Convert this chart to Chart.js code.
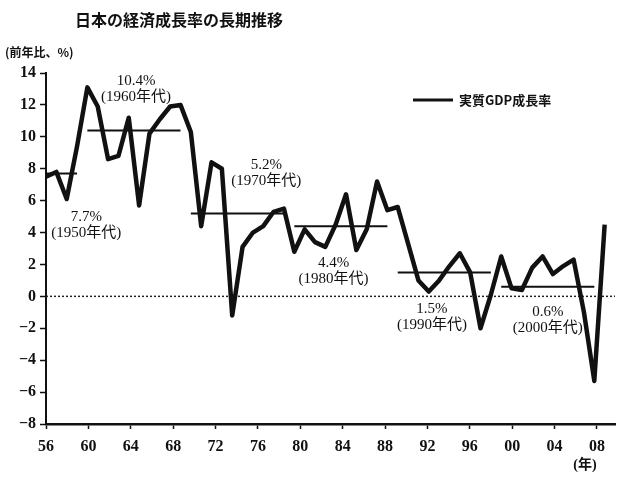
<!DOCTYPE html>
<html lang="ja">
<head>
<meta charset="UTF-8">
<title>日本の経済成長率の長期推移</title>
<script src="https://cdn.jsdelivr.net/npm/chart.js"></script>
<style>
  html, body { margin: 0; padding: 0; background: #fff; }
  #wrap { width: 624px; height: 477px; position: relative; }
</style>
</head>
<body>
<div id="wrap"><canvas id="grafico"></canvas></div>
<script>
// 暦年ごとの実質GDP成長率 (%)
var anos = [1956, 1957, 1958, 1959, 1960, 1961, 1962, 1963, 1964, 1965,
            1966, 1967, 1968, 1969, 1970, 1971, 1972, 1973, 1974, 1975,
            1976, 1977, 1978, 1979, 1980, 1981, 1982, 1983, 1984, 1985,
            1986, 1987, 1988, 1989, 1990, 1991, 1992, 1993, 1994, 1995,
            1996, 1997, 1998, 1999, 2000, 2001, 2002, 2003, 2004, 2005,
            2006, 2007, 2008, 2009, 2010];
var crescimento = [7.5, 7.8, 6.1, 9.4, 13.1, 11.9, 8.6, 8.8, 11.2, 5.7,
                   10.2, 11.1, 11.9, 12.0, 10.3, 4.4, 8.4, 8.0, -1.2, 3.1,
                   4.0, 4.4, 5.3, 5.5, 2.8, 4.2, 3.4, 3.1, 4.5, 6.4,
                   2.9, 4.2, 7.2, 5.4, 5.6, 3.3, 1.0, 0.3, 1.0, 1.9,
                   2.7, 1.5, -2.0, 0.1, 2.5, 0.5, 0.4, 1.8, 2.5, 1.4,
                   1.9, 2.3, -1.0, -5.3, 4.5];

// 年代平均
var decadaNome  = ['1950年代', '1960年代', '1970年代', '1980年代', '1990年代', '2000年代'];
var decadaMedia = [7.7, 10.4, 5.2, 4.4, 1.5, 0.6];
var decadaIni   = [1956, 1960, 1970, 1980, 1990, 2000];
var decadaFim   = [1959, 1969, 1979, 1989, 1999, 2009];

// 目盛り
var xTickAnos   = [1956, 1960, 1964, 1968, 1972, 1976, 1980, 1984, 1988, 1992, 1996, 2000, 2004, 2008];
var xTickLabels = ['56', '60', '64', '68', '72', '76', '80', '84', '88', '92', '96', '00', '04', '08'];
var yTicks      = [-8, -6, -4, -2, 0, 2, 4, 6, 8, 10, 12, 14];

var titulo  = '日本の経済成長率の長期推移';
var unidade = '(前年比、%)';
var legenda = '実質GDP成長率';

// 注記の位置 (データ座標、年代平均と同じ順)
var notaAno   = [1959.9, 1964.7, 1977.3, 1983.8, 1993.3, 2004.5];
var notaValor = [5.0, 13.5, 8.2, 2.1, -0.8, -1.0];

var serif = '"Liberation Serif", "Noto Sans CJK JP", serif';
var gothic = '"Noto Sans CJK JP", sans-serif';

// 折れ線のデータ
var pontos = [];
for (var i = 0; i < anos.length; i++) {
  pontos.push({ x: anos[i], y: crescimento[i] });
}

var datasets = [{
  label: legenda,
  data: pontos,
  borderColor: '#111',
  borderWidth: 4.5,
  borderJoinStyle: 'round',
  pointRadius: 0,
  tension: 0,
  xAxisID: 'xd'
}];

// 年代平均の横線
for (var d = 0; d < decadaMedia.length; d++) {
  datasets.push({
    label: decadaNome[d],
    data: [{ x: decadaIni[d], y: decadaMedia[d] }, { x: decadaFim[d], y: decadaMedia[d] }],
    borderColor: '#111',
    borderWidth: 2,
    pointRadius: 0,
    xAxisID: 'xd'
  });
}

// 0% の点線
datasets.push({
  label: 'zero',
  data: [{ x: anos[0], y: 0 }, { x: 2011, y: 0 }],
  borderColor: '#222',
  borderWidth: 1.5,
  borderDash: [2, 2],
  pointRadius: 0,
  xAxisID: 'xd'
});

var textos = {
  id: 'textos',
  afterDraw: function(chart) {
    var ctx = chart.ctx;
    var xd = chart.scales.xd;
    var y = chart.scales.y;
    ctx.save();
    ctx.fillStyle = '#111';
    ctx.textBaseline = 'middle';

    ctx.font = 'bold 16px ' + gothic;
    ctx.textAlign = 'left';
    ctx.fillText(titulo, 75, 20);

    ctx.font = 'bold 12px ' + gothic;
    ctx.fillText(unidade, 5, 52);

    ctx.font = 'bold 14px ' + serif;
    ctx.textAlign = 'center';
    ctx.fillText('(年)', 585, 465);

    // 凡例
    ctx.strokeStyle = '#111';
    ctx.lineWidth = 3;
    ctx.beginPath();
    ctx.moveTo(413, 100);
    ctx.lineTo(453, 100);
    ctx.stroke();
    ctx.font = 'bold 13px ' + gothic;
    ctx.textAlign = 'left';
    ctx.fillText(legenda, 459, 100);

    // 年代平均の注記
    ctx.font = '15px ' + serif;
    ctx.textAlign = 'center';
    for (var k = 0; k < decadaMedia.length; k++) {
      var px = xd.getPixelForValue(notaAno[k]);
      var py = y.getPixelForValue(notaValor[k]);
      ctx.fillText(decadaMedia[k].toFixed(1) + '%', px, py);
      ctx.fillText('(' + decadaNome[k] + ')', px, py + 16);
    }
    ctx.restore();
  }
};

var ctx = document.getElementById('grafico').getContext('2d');
var myChart = new Chart(ctx, {
  type: 'line',
  data: { datasets: datasets },
  options: {
    responsive: true,
    maintainAspectRatio: false,
    animation: false,
    layout: { padding: { top: 73, right: 9, left: 0, bottom: 0 } },
    plugins: {
      legend: { display: false },
      title: { display: false },
      tooltip: { enabled: false }
    },
    scales: {
      xd: {
        type: 'linear',
        display: false,
        min: 1956,
        max: 2011
      },
      x: {
        type: 'linear',
        position: 'bottom',
        min: 1956,
        max: 2009.7,
        afterBuildTicks: function(scale) {
          scale.ticks = xTickAnos.map(function(v) { return { value: v }; });
        },
        afterFit: function(scale) { scale.height = 53; },
        ticks: {
          autoSkip: false,
          maxRotation: 0,
          padding: 8,
          color: '#111',
          font: { family: serif, size: 16, weight: 'bold' },
          callback: function(value, index) { return xTickLabels[index]; }
        },
        grid: { drawOnChartArea: false, drawTicks: true, tickLength: 5, tickColor: '#111', tickWidth: 1.5 },
        border: { display: true, color: '#111', width: 2.5 }
      },
      y: {
        type: 'linear',
        min: -8,
        max: 14,
        afterBuildTicks: function(scale) {
          scale.ticks = yTicks.map(function(v) { return { value: v }; });
        },
        afterFit: function(scale) { scale.width = 46; },
        ticks: {
          padding: 4,
          color: '#111',
          font: { family: serif, size: 16, weight: 'bold' },
          callback: function(value) { return value < 0 ? '\u2212' + Math.abs(value) : String(value); }
        },
        grid: { drawOnChartArea: false, drawTicks: true, tickLength: 6, tickColor: '#111', tickWidth: 1.5 },
        border: { display: true, color: '#111', width: 2 }
      }
    }
  },
  plugins: [textos]
});
</script>
</body>
</html>
